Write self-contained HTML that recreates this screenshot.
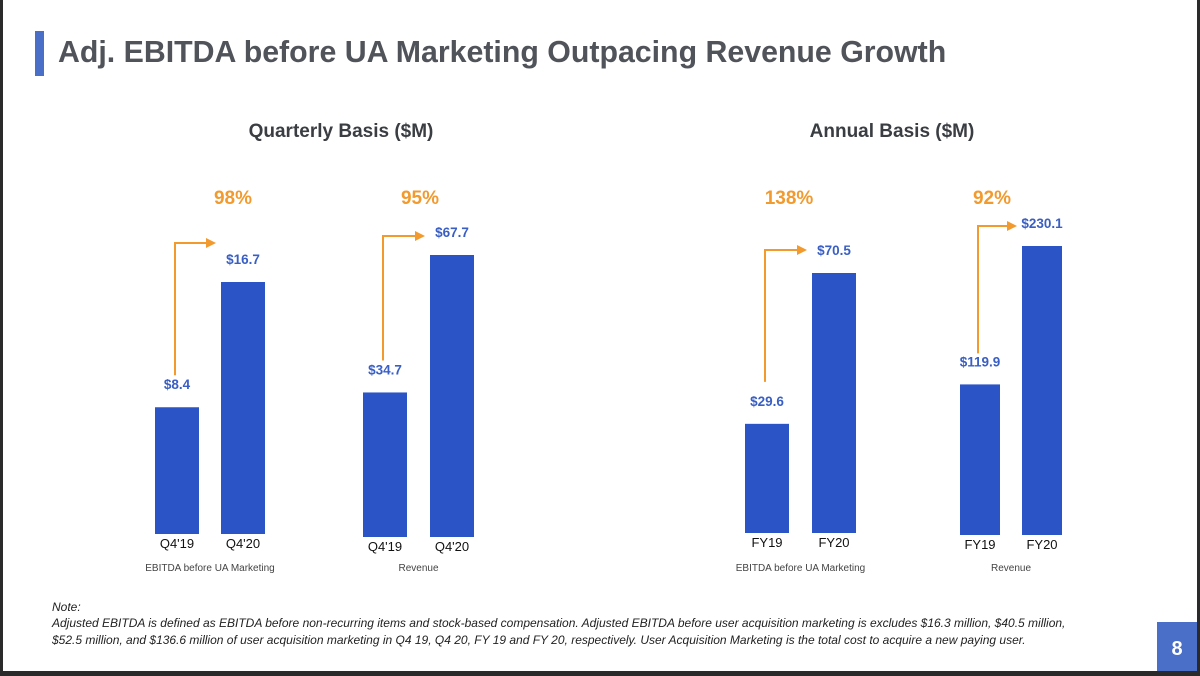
<!DOCTYPE html>
<html><head><meta charset="utf-8"><style>
html,body{margin:0;padding:0;width:1200px;height:676px;overflow:hidden;background:#fff;font-family:"Liberation Sans",sans-serif}
svg{position:absolute;left:0;top:0}
</style></head><body>
<svg id="chart" width="1200" height="676">
<rect x="0" y="0" width="1200" height="676" fill="#fff"/>
<rect x="0" y="0" width="3" height="676" fill="#2a2a2a"/>
<rect x="1197" y="0" width="3" height="676" fill="#2a2a2a"/>
<rect x="0" y="671" width="1200" height="5" fill="#2a2a2a"/>
<rect x="35" y="31" width="9" height="45" fill="#4a6fc8"/>
<text x="58" y="62" font-size="30.3" font-weight="bold" fill="#505359">Adj. EBITDA before UA Marketing Outpacing Revenue Growth</text>
<text x="341" y="137" font-size="19" font-weight="bold" fill="#3a3d42" text-anchor="middle">Quarterly Basis ($M)</text>
<text x="892" y="137" font-size="19" font-weight="bold" fill="#3a3d42" text-anchor="middle">Annual Basis ($M)</text>
<g id="groups"></g>
<text x="52" y="611" font-size="12" font-style="italic" fill="#222">Note:</text>
<text x="52" y="627" font-size="12" font-style="italic" fill="#222">Adjusted EBITDA is defined as EBITDA before non-recurring items and stock-based compensation. Adjusted EBITDA before user acquisition marketing is excludes $16.3 million, $40.5 million,</text>
<text x="52" y="644" font-size="12" font-style="italic" fill="#222">$52.5 million, and $136.6 million of user acquisition marketing in Q4 19, Q4 20, FY 19 and FY 20, respectively. User Acquisition Marketing is the total cost to acquire a new paying user.</text>
<rect x="1157" y="622" width="40" height="49" fill="#4a6fc8"/>
<text x="1177" y="655" font-size="20" font-weight="bold" fill="#fff" text-anchor="middle">8</text>
</svg>
<script>
const groupNames = ["EBITDA before UA Marketing","Revenue","EBITDA before UA Marketing","Revenue"];
const categories = [["Q4'19","Q4'20"],["Q4'19","Q4'20"],["FY19","FY20"],["FY19","FY20"]];
const valuesBefore = [8.4, 34.7, 29.6, 119.9];
const valuesAfter = [16.7, 67.7, 70.5, 230.1];
const growthLabels = ["98%","95%","138%","92%"];
const valueLabels = [["$8.4","$16.7"],["$34.7","$67.7"],["$29.6","$70.5"],["$119.9","$230.1"]];
// layout
const gx = [155, 363, 745, 960];
const gap = [66, 67, 67, 62];
const bw = [44, 44, 44, 40];
const base = [534, 537, 533, 535];
const maxH = [252, 282, 260, 289];
const pctX = [233, 420, 789, 992];
const arrowTopOff = [39, 19, 23, 20];
const arrowBotOff = [32, 32, 42, 31];
const NS = "http://www.w3.org/2000/svg";
const root = document.getElementById('groups');
function mk(tag, attrs, txt){const e=document.createElementNS(NS,tag);for(const k in attrs)e.setAttribute(k,attrs[k]);if(txt!==undefined)e.textContent=txt;root.appendChild(e);return e;}
for(let i=0;i<4;i++){
  const maxV = valuesAfter[i];
  const y = v => base[i] - v/maxV*maxH[i];
  const vals=[valuesBefore[i],valuesAfter[i]];
  for(let j=0;j<2;j++){
    const x = gx[i]+j*gap[i];
    const b = mk('rect',{x:x,y:y(vals[j]),width:bw[i],height:base[i]-y(vals[j]),fill:'#2b55c6'});
    
    
    const t = mk('text',{x:x+bw[i]/2,y:y(vals[j])-18,'font-size':13.5,'font-weight':'bold',fill:'#3a5fc4','text-anchor':'middle'},valueLabels[i][j]);
    
    
    const c = mk('text',{x:x+bw[i]/2,y:base[i]+14,'font-size':13,fill:'#111','text-anchor':'middle'},categories[i][j]);
    
    
  }
  const g = mk('text',{x:gx[i]+gap[i]/2+bw[i]/2,y:571,'font-size':10,fill:'#444','text-anchor':'middle'},groupNames[i]);
  
  
  const p = mk('text',{x:pctX[i],y:204,'font-size':19,'font-weight':'bold',fill:'#f29a2e','text-anchor':'middle'},growthLabels[i]);
  
  
  const ax = gx[i]+bw[i]/2-2;
  const yTopSmall = y(vals[0])-arrowBotOff[i];
  const yArrow = y(vals[1])-arrowTopOff[i];
  const xEnd = gx[i]+gap[i]-5;
  const a = mk('path',{d:`M${ax} ${yTopSmall} L${ax} ${yArrow} L${xEnd-8} ${yArrow}`,stroke:'#f29a2e','stroke-width':2,fill:'none'});
  
  
  const h = mk('path',{d:`M${xEnd-10} ${yArrow-5} L${xEnd} ${yArrow} L${xEnd-10} ${yArrow+5} Z`,fill:'#f29a2e'});
  
  
}
</script>
</body></html>
